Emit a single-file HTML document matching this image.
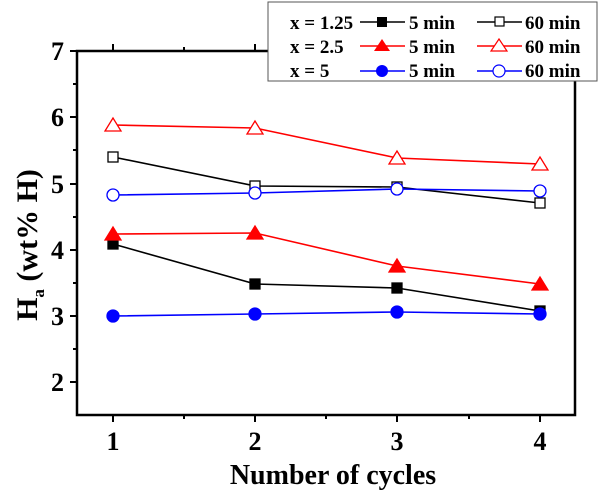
<!DOCTYPE html>
<html><head><style>body{margin:0;background:#fff}</style></head><body>
<svg width="601" height="497" xmlns="http://www.w3.org/2000/svg" font-family="Liberation Serif, serif" font-weight="bold">
<g stroke="#000" stroke-width="2">
<line x1="77" y1="51" x2="70" y2="51"/><line x1="77" y1="84" x2="73" y2="84"/>
<line x1="77" y1="117" x2="70" y2="117"/><line x1="77" y1="150" x2="73" y2="150"/>
<line x1="77" y1="184" x2="70" y2="184"/><line x1="77" y1="217" x2="73" y2="217"/>
<line x1="77" y1="250" x2="70" y2="250"/><line x1="77" y1="283" x2="73" y2="283"/>
<line x1="77" y1="316" x2="70" y2="316"/><line x1="77" y1="349" x2="73" y2="349"/>
<line x1="77" y1="382" x2="70" y2="382"/>
<line x1="113" y1="415" x2="113" y2="422"/><line x1="184" y1="415" x2="184" y2="419"/>
<line x1="255" y1="415" x2="255" y2="422"/><line x1="326" y1="415" x2="326" y2="419"/>
<line x1="397" y1="415" x2="397" y2="422"/><line x1="469" y1="415" x2="469" y2="419"/>
<line x1="540" y1="415" x2="540" y2="422"/>
<line x1="113" y1="51" x2="113" y2="44"/><line x1="184" y1="51" x2="184" y2="47"/>
<line x1="255" y1="51" x2="255" y2="44"/><line x1="326" y1="51" x2="326" y2="47"/>
<line x1="397" y1="51" x2="397" y2="44"/><line x1="469" y1="51" x2="469" y2="47"/>
<line x1="540" y1="51" x2="540" y2="44"/>
</g>
<rect x="77" y="51" width="498" height="364" fill="none" stroke="#000" stroke-width="2.5"/>
<g font-size="26" text-anchor="end">
<text x="64" y="60">7</text><text x="64" y="126">6</text><text x="64" y="193">5</text>
<text x="64" y="259">4</text><text x="64" y="325">3</text><text x="64" y="391">2</text>
</g>
<g font-size="26" text-anchor="middle">
<text x="113" y="450">1</text><text x="255" y="450">2</text><text x="397" y="450">3</text><text x="540" y="450">4</text>
</g>
<text x="333" y="484" font-size="28" text-anchor="middle">Number of cycles</text>
<text transform="translate(37,245) rotate(-90)" font-size="30" text-anchor="middle">H<tspan font-size="17" dy="7">a</tspan><tspan dy="-7"> (wt% H)</tspan></text>
<g fill="none" stroke-width="1.6">
<polyline stroke="#f00" points="113,125 255,128 397,158 540,164"/>
<polyline stroke="#000" points="113,157 255,186 397,187 540,203"/>
<polyline stroke="#00f" points="113,195 255,193 397,189 540,191"/>
<polyline stroke="#f00" points="113,234 255,233 397,266 540,284"/>
<polyline stroke="#000" points="113,244 255,284 397,288 540,311"/>
<polyline stroke="#00f" points="113,316 255,314 397,312 540,314"/>
</g>
<g stroke-width="1.3">
<g fill="#fff" stroke="#f00"><polygon points="113,118 105,131 121,131"/><polygon points="255,121 247,134 263,134"/><polygon points="397,151 389,164 405,164"/><polygon points="540,157 532,170 548,170"/></g>
<g fill="#fff" stroke="#000"><rect x="108" y="152" width="10" height="10"/><rect x="250" y="181" width="10" height="10"/><rect x="392" y="182" width="10" height="10"/><rect x="535" y="198" width="10" height="10"/></g>
<g fill="#fff" stroke="#00f"><circle cx="113" cy="195" r="6"/><circle cx="255" cy="193" r="6"/><circle cx="397" cy="189" r="6"/><circle cx="540" cy="191" r="6"/></g>
<g fill="#000" stroke="#000"><rect x="108" y="239" width="10" height="10"/><rect x="250" y="279" width="10" height="10"/><rect x="392" y="283" width="10" height="10"/><rect x="535" y="306" width="10" height="10"/></g>
<g fill="#f00" stroke="#f00"><polygon points="113,227 105,240 121,240"/><polygon points="255,226 247,239 263,239"/><polygon points="397,259 389,272 405,272"/><polygon points="540,277 532,290 548,290"/></g>
<g fill="#00f" stroke="#00f"><circle cx="113" cy="316" r="6"/><circle cx="255" cy="314" r="6"/><circle cx="397" cy="312" r="6"/><circle cx="540" cy="314" r="6"/></g>
</g>
<rect x="268" y="2" width="329" height="79" fill="#fff" stroke="#555" stroke-width="1"/>
<g font-size="19">
<text x="290" y="29">x = 1.25</text><text x="290" y="53">x = 2.5</text><text x="290" y="77">x = 5</text>
<text x="409" y="29">5 min</text><text x="409" y="53">5 min</text><text x="409" y="77">5 min</text>
<text x="525" y="29">60 min</text><text x="525" y="53">60 min</text><text x="525" y="77">60 min</text>
</g>
<g stroke-width="1.6">
<line x1="360" y1="22" x2="405" y2="22" stroke="#000"/><rect x="377" y="17" width="10" height="10" fill="#000"/>
<line x1="477" y1="22" x2="522" y2="22" stroke="#000"/><rect x="495" y="17" width="9" height="9" fill="#fff" stroke="#000" stroke-width="1.2"/>
<line x1="360" y1="46" x2="405" y2="46" stroke="#f00"/><polygon points="382,39 374,51 390,51" fill="#f00"/>
<line x1="477" y1="46" x2="522" y2="46" stroke="#f00"/><polygon points="499,39 491,51 507,51" fill="#fff" stroke="#f00" stroke-width="1.2"/>
<line x1="360" y1="71" x2="405" y2="71" stroke="#00f"/><circle cx="382" cy="71" r="6" fill="#00f"/>
<line x1="477" y1="71" x2="522" y2="71" stroke="#00f"/><circle cx="499" cy="71" r="6" fill="#fff" stroke="#00f" stroke-width="1.2"/>
</g>
</svg>
</body></html>
